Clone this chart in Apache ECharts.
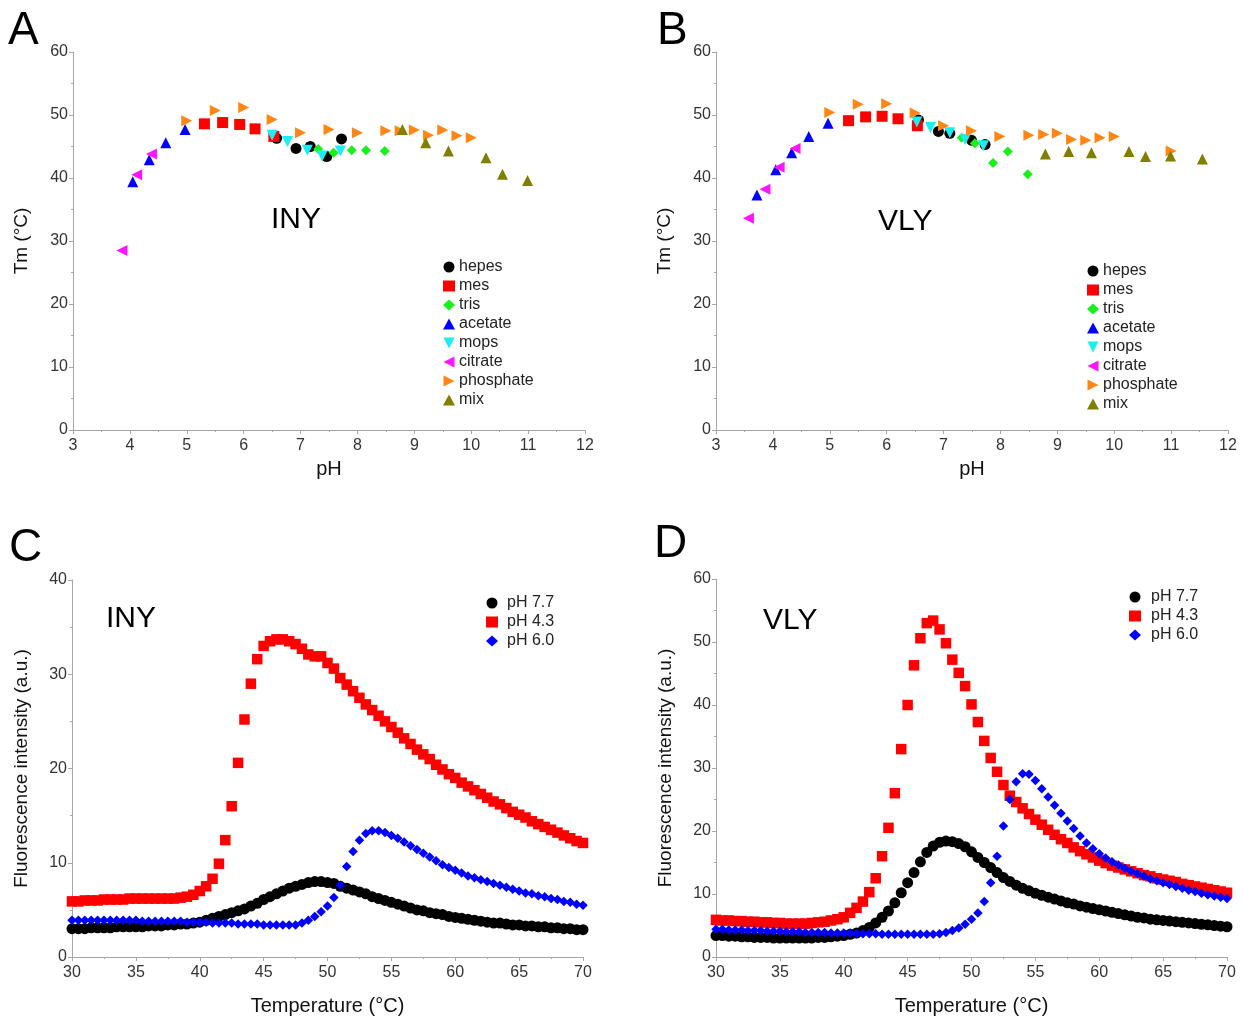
<!DOCTYPE html>
<html>
<head>
<meta charset="utf-8">
<script src="https://cdn.jsdelivr.net/npm/echarts@6/dist/echarts.min.js"></script>
<style>
html,body{margin:0;padding:0;background:#fff;}
#chart{width:1244px;height:1021px;}
</style>
</head>
<body>
<div id="chart"></div>
<script>
// ---------- Panel A (INY) : Tm vs pH ----------
const hepesA_pH = [6.58, 6.92, 7.17, 7.46, 7.72];
const hepesA_Tm = [46.3, 44.7, 45.0, 43.4, 46.2];
const mesA_pH = [5.31, 5.63, 5.93, 6.20, 6.53];
const mesA_Tm = [48.6, 48.8, 48.5, 47.8, 46.6];
const trisA_pH = [7.31, 7.58, 7.90, 8.15, 8.48];
const trisA_Tm = [44.6, 44.0, 44.4, 44.4, 44.3];
const acetateA_pH = [4.05, 4.34, 4.63, 4.97];
const acetateA_Tm = [39.4, 42.9, 45.6, 47.7];
const mopsA_pH = [6.50, 6.77, 7.12, 7.38, 7.70];
const mopsA_Tm = [46.8, 45.8, 44.4, 43.5, 44.3];
const citrateA_pH = [3.86, 4.12, 4.38];
const citrateA_Tm = [28.5, 40.5, 43.8];
const phosphateA_pH = [5.0, 5.5, 6.0, 6.5, 7.0, 7.5, 8.0, 8.5, 8.75, 9.0, 9.25, 9.5, 9.75, 10.0];
const phosphateA_Tm = [49.1, 50.7, 51.2, 49.3, 47.2, 47.7, 47.2, 47.5, 47.5, 47.6, 46.8, 47.6, 46.7, 46.4];
const mixA_pH = [8.79, 9.2, 9.6, 10.26, 10.55, 10.99];
const mixA_Tm = [47.7, 45.6, 44.3, 43.2, 40.6, 39.6];

// ---------- Panel B (VLY) : Tm vs pH ----------
const hepesB_pH = [6.56, 6.91, 7.11, 7.49, 7.73];
const hepesB_Tm = [49.2, 47.4, 47.1, 46.0, 45.3];
const mesB_pH = [5.33, 5.63, 5.92, 6.20, 6.54];
const mesB_Tm = [49.1, 49.7, 49.8, 49.4, 48.3];
const trisB_pH = [7.32, 7.55, 7.87, 8.13, 8.48];
const trisB_Tm = [46.4, 45.5, 42.4, 44.2, 40.6];
const acetateB_pH = [3.72, 4.05, 4.33, 4.63, 4.97];
const acetateB_Tm = [37.3, 41.3, 44.0, 46.6, 48.7];
const mopsB_pH = [6.53, 6.77, 7.11, 7.38, 7.70];
const mopsB_Tm = [48.9, 48.0, 47.2, 46.1, 45.1];
const citrateB_pH = [3.57, 3.86, 4.11, 4.39];
const citrateB_Tm = [33.6, 38.2, 41.7, 44.7];
const phosphateB_pH = [5.0, 5.5, 6.0, 6.5, 7.0, 7.49, 7.99, 8.5, 8.76, 9.0, 9.25, 9.5, 9.75, 10.0, 11.0];
const phosphateB_Tm = [50.4, 51.7, 51.8, 50.3, 48.3, 47.5, 46.6, 46.8, 46.9, 47.1, 46.1, 46.0, 46.4, 46.6, 44.3];
const mixB_pH = [8.79, 9.2, 9.6, 10.26, 10.55, 10.99, 11.55];
const mixB_Tm = [43.8, 44.2, 44.0, 44.2, 43.4, 43.5, 43.0];

// ---------- Panels C and D : fluorescence vs temperature ----------
const temps = [30,30.5,31,31.5,32,32.5,33,33.5,34,34.5,35,35.5,36,36.5,37,37.5,38,38.5,39,39.5,
  40,40.5,41,41.5,42,42.5,43,43.5,44,44.5,45,45.5,46,46.5,47,47.5,48,48.5,49,49.5,
  50,50.5,51,51.5,52,52.5,53,53.5,54,54.5,55,55.5,56,56.5,57,57.5,58,58.5,59,59.5,
  60,60.5,61,61.5,62,62.5,63,63.5,64,64.5,65,65.5,66,66.5,67,67.5,68,68.5,69,69.5,70];

const blackC = [3.0,3.0,3.0,3.1,3.1,3.1,3.1,3.2,3.2,3.2,3.2,3.2,3.3,3.3,3.3,3.4,3.4,3.5,3.5,3.6,
  3.7,3.9,4.1,4.3,4.5,4.7,4.9,5.1,5.4,5.7,6.1,6.4,6.7,7.0,7.3,7.5,7.7,7.9,8.0,8.0,
  7.9,7.8,7.5,7.3,7.1,6.9,6.7,6.4,6.2,6.0,5.8,5.6,5.4,5.2,5.0,4.9,4.7,4.6,4.5,4.3,
  4.2,4.1,4.0,3.9,3.8,3.7,3.6,3.6,3.5,3.4,3.4,3.3,3.3,3.2,3.2,3.1,3.1,3.0,3.0,2.9,2.9];
const redC = [5.9,5.9,6.0,6.0,6.0,6.1,6.1,6.1,6.1,6.2,6.2,6.2,6.2,6.2,6.2,6.2,6.2,6.3,6.4,6.6,
  7.0,7.5,8.3,9.9,12.4,16.0,20.6,25.2,29.0,31.6,33.0,33.5,33.7,33.7,33.5,33.2,32.7,32.1,31.9,31.9,
  31.2,30.6,29.6,28.9,28.2,27.5,26.8,26.2,25.6,25.0,24.4,23.8,23.2,22.6,22.0,21.5,21.0,20.4,19.9,19.4,
  19.0,18.5,18.1,17.7,17.3,16.9,16.5,16.2,15.8,15.4,15.1,14.8,14.4,14.1,13.8,13.5,13.2,12.9,12.6,12.3,12.1];
const blueC = [3.9,3.9,3.9,3.9,3.9,3.9,3.9,3.9,3.9,3.9,3.9,3.8,3.8,3.8,3.8,3.8,3.8,3.8,3.7,3.7,
  3.7,3.7,3.6,3.6,3.6,3.6,3.5,3.5,3.5,3.5,3.4,3.4,3.4,3.4,3.4,3.4,3.6,3.9,4.3,4.8,
  5.4,6.3,7.6,9.6,11.2,12.4,13.1,13.4,13.4,13.2,12.9,12.6,12.2,11.8,11.4,11.0,10.6,10.2,9.8,9.5,
  9.2,8.9,8.6,8.4,8.2,8.0,7.8,7.6,7.4,7.2,7.0,6.8,6.7,6.5,6.4,6.2,6.1,5.9,5.8,5.6,5.5];

const blackD = [3.4,3.4,3.3,3.3,3.2,3.2,3.1,3.1,3.1,3.0,3.0,3.0,3.0,3.0,3.0,3.0,3.1,3.1,3.2,3.3,
  3.4,3.6,3.8,4.2,4.7,5.4,6.3,7.3,8.6,10.2,11.8,13.4,15.1,16.6,17.6,18.2,18.4,18.3,18.0,17.5,
  16.7,15.8,15.0,14.2,13.4,12.6,12.0,11.4,10.9,10.5,10.1,9.8,9.5,9.2,8.9,8.6,8.4,8.1,7.9,7.7,
  7.5,7.3,7.1,6.9,6.7,6.5,6.3,6.2,6.0,5.9,5.8,5.7,5.6,5.5,5.4,5.3,5.2,5.1,5.0,4.9,4.8];
const redD = [5.9,5.8,5.8,5.7,5.7,5.6,5.6,5.5,5.5,5.4,5.4,5.3,5.3,5.3,5.3,5.4,5.5,5.6,5.8,6.0,
  6.3,7.0,7.8,8.8,10.3,12.5,16.0,20.5,26.0,33.0,40.0,46.3,50.6,53.0,53.4,52.0,49.8,47.2,45.1,43.0,
  40.1,37.3,34.3,31.6,29.4,27.3,25.6,24.6,23.6,22.7,21.8,21.0,20.2,19.4,18.7,18.1,17.4,16.8,16.3,15.8,
  15.3,14.9,14.5,14.2,13.9,13.6,13.3,13.0,12.8,12.5,12.3,12.1,11.9,11.6,11.4,11.2,11.0,10.8,10.6,10.4,10.2];
const blueD = [4.4,4.4,4.3,4.3,4.3,4.2,4.2,4.2,4.1,4.1,4.1,4.0,4.0,4.0,3.9,3.9,3.9,3.9,3.8,3.8,
  3.8,3.8,3.7,3.7,3.7,3.7,3.6,3.6,3.6,3.6,3.6,3.6,3.6,3.6,3.6,3.7,3.9,4.2,4.6,5.2,
  6.0,7.0,8.8,11.8,16.0,20.8,25.0,27.8,29.1,29.0,28.0,26.7,25.4,24.1,22.8,21.6,20.4,19.2,18.1,17.2,
  16.4,15.7,15.1,14.6,14.1,13.6,13.2,12.8,12.4,12.1,11.8,11.5,11.2,10.9,10.6,10.4,10.1,9.9,9.7,9.5,9.3];

const bufferNames = ['hepes','mes','tris','acetate','mops','citrate','phosphate','mix'];
const curveNames = ['pH 7.7','pH 4.3','pH 6.0'];

// ---------- styling ----------
const FONT = '"Liberation Sans", Arial, sans-serif';
const SYM = {
  hepes: {symbol:'circle', color:'#000000', size:11},
  mes: {symbol:'rect', color:'#ff0000', size:11},
  tris: {symbol:'diamond', color:'#19f019', size:10},
  acetate: {symbol:'triangle', color:'#0000ff', size:11},
  mops: {symbol:'path://M0,0 L10,0 L5,10 Z', color:'#19eef2', size:11},
  citrate: {symbol:'path://M10,0 L10,10 L0,5 Z', color:'#ff14ff', size:11},
  phosphate: {symbol:'path://M0,0 L10,5 L0,10 Z', color:'#ff8515', size:11},
  mix: {symbol:'triangle', color:'#7f7f00', size:11}
};
const CURVE = {
  'pH 7.7': {symbol:'circle', color:'#000000', size:11},
  'pH 4.3': {symbol:'rect', color:'#ff0000', size:10.5},
  'pH 6.0': {symbol:'diamond', color:'#0000ff', size:9.5}
};

function pairs(xs, ys){ return xs.map((x,i)=>[x, ys[i]]); }

const panelA = {hepes:[hepesA_pH,hepesA_Tm], mes:[mesA_pH,mesA_Tm], tris:[trisA_pH,trisA_Tm],
  acetate:[acetateA_pH,acetateA_Tm], mops:[mopsA_pH,mopsA_Tm], citrate:[citrateA_pH,citrateA_Tm],
  phosphate:[phosphateA_pH,phosphateA_Tm], mix:[mixA_pH,mixA_Tm]};
const panelB = {hepes:[hepesB_pH,hepesB_Tm], mes:[mesB_pH,mesB_Tm], tris:[trisB_pH,trisB_Tm],
  acetate:[acetateB_pH,acetateB_Tm], mops:[mopsB_pH,mopsB_Tm], citrate:[citrateB_pH,citrateB_Tm],
  phosphate:[phosphateB_pH,phosphateB_Tm], mix:[mixB_pH,mixB_Tm]};
const panelC = {'pH 7.7':blackC, 'pH 4.3':redC, 'pH 6.0':blueC};
const panelD = {'pH 7.7':blackD, 'pH 4.3':redD, 'pH 6.0':blueD};

const series = [];
[[panelA,0],[panelB,1]].forEach(([p,idx])=>{
  bufferNames.forEach(n=>{
    const s = SYM[n];
    series.push({type:'scatter', name:n, xAxisIndex:idx, yAxisIndex:idx,
      symbol:s.symbol, symbolSize:s.size, itemStyle:{color:s.color, opacity:1},
      data:pairs(p[n][0], p[n][1]), emphasis:{disabled:true}});
  });
});
[[panelC,2],[panelD,3]].forEach(([p,idx])=>{
  curveNames.forEach(n=>{
    const s = CURVE[n];
    series.push({type:'scatter', name:n, xAxisIndex:idx, yAxisIndex:idx,
      symbol:s.symbol, symbolSize:s.size, itemStyle:{color:s.color, opacity:1},
      data:pairs(temps, p[n]), emphasis:{disabled:true}});
  });
});

const axisLineColor = '#a6a6a6';
function xAx(grid, min, max, interval, name, nameGap){
  return {type:'value', gridIndex:grid, min:min, max:max, interval:interval,
    name:name, nameLocation:'middle', nameGap:nameGap,
    nameTextStyle:{fontFamily:FONT, fontSize:20, color:'#111'},
    axisLine:{show:true, onZero:false, lineStyle:{color:axisLineColor, width:1}},
    axisTick:{show:true, length:4, lineStyle:{color:axisLineColor}},
    minorTick:{show:true, splitNumber:2, length:2, lineStyle:{color:axisLineColor}},
    axisLabel:{fontFamily:FONT, fontSize:16, color:'#333', margin:8},
    splitLine:{show:false}};
}
function yAx(grid, min, max, interval, name, nameGap){
  return {type:'value', gridIndex:grid, min:min, max:max, interval:interval,
    name:name, nameLocation:'middle', nameGap:nameGap, nameRotate:90,
    nameTextStyle:{fontFamily:FONT, fontSize:19, color:'#111'},
    axisLine:{show:true, onZero:false, lineStyle:{color:axisLineColor, width:1}},
    axisTick:{show:true, length:4, lineStyle:{color:axisLineColor}},
    minorTick:{show:true, splitNumber:2, length:2, lineStyle:{color:axisLineColor}},
    axisLabel:{fontFamily:FONT, fontSize:16, color:'#333', margin:5},
    splitLine:{show:false}};
}

function legend(left, top, names, textPad){
  return {orient:'vertical', left:left, top:top, data:names, selectedMode:false,
    itemWidth:12, itemHeight:11, itemGap:3, padding:0,
    textStyle:{fontFamily:FONT, fontSize:16, color:'#222', padding:[0,0,0,textPad]}};
}

const option = {
  animation:false,
  backgroundColor:'#ffffff',
  grid:[
    {left:73, top:52, width:512, height:378},
    {left:716, top:52, width:512, height:378},
    {left:72, top:580, width:511, height:377},
    {left:716, top:579, width:511, height:378}
  ],
  xAxis:[
    xAx(0, 3, 12, 1, 'pH', 29),
    xAx(1, 3, 12, 1, 'pH', 29),
    xAx(2, 30, 70, 5, 'Temperature (°C)', 39),
    xAx(3, 30, 70, 5, 'Temperature (°C)', 39)
  ],
  yAxis:[
    yAx(0, 0, 60, 10, 'Tm (°C)', 42),
    yAx(1, 0, 60, 10, 'Tm (°C)', 42),
    yAx(2, 0, 40, 10, 'Fluorescence intensity (a.u.)', 41),
    yAx(3, 0, 60, 10, 'Fluorescence intensity (a.u.)', 41)
  ],
  legend:[
    legend(443, 259, bufferNames, -1),
    legend(1087, 263, bufferNames, -1),
    legend(486, 595, curveNames, 4),
    legend(1129, 589, curveNames, 5)
  ],
  graphic:[
    {type:'text', left:8, top:8, style:{text:'A', font:'46px '+FONT, fill:'#000'}},
    {type:'text', left:657, top:8, style:{text:'B', font:'46px '+FONT, fill:'#000'}},
    {type:'text', left:9, top:525, style:{text:'C', font:'46px '+FONT, fill:'#000'}},
    {type:'text', left:654, top:521, style:{text:'D', font:'46px '+FONT, fill:'#000'}},
    {type:'text', left:271, top:205, style:{text:'INY', font:'30px '+FONT, fill:'#000'}},
    {type:'text', left:878, top:207, style:{text:'VLY', font:'30px '+FONT, fill:'#000'}},
    {type:'text', left:106, top:604, style:{text:'INY', font:'30px '+FONT, fill:'#000'}},
    {type:'text', left:763, top:606, style:{text:'VLY', font:'30px '+FONT, fill:'#000'}}
  ],
  series:series
};

const chart = echarts.init(document.getElementById('chart'), null, {renderer:'canvas'});
chart.setOption(option);
</script>
</body>
</html>
